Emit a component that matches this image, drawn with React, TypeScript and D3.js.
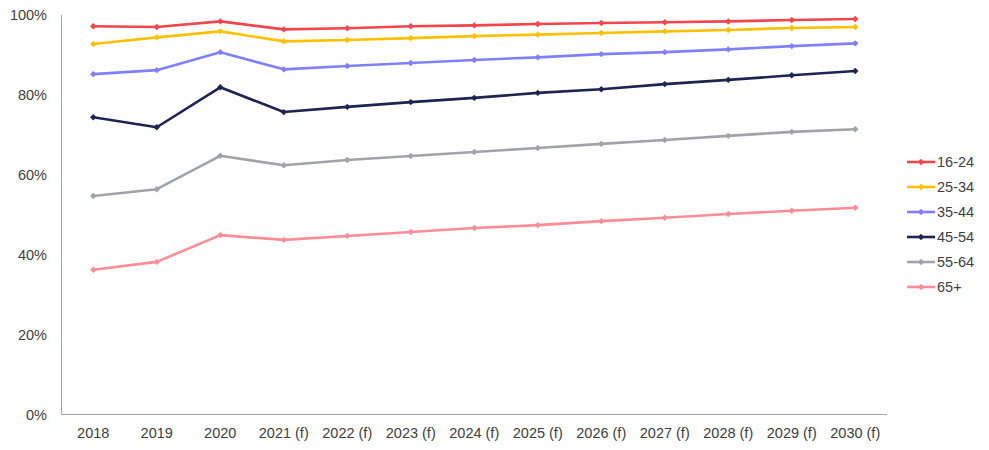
import React from "react";
import * as d3 from "d3";

const categories = ["2018", "2019", "2020", "2021 (f)", "2022 (f)", "2023 (f)", "2024 (f)", "2025 (f)", "2026 (f)", "2027 (f)", "2028 (f)", "2029 (f)", "2030 (f)"];
const seriesNames = ["16-24", "25-34", "35-44", "45-54", "55-64", "65+"];
const s1624 = [97.2, 97.0, 98.4, 96.4, 96.7, 97.2, 97.4, 97.75, 98.0, 98.2, 98.4, 98.75, 99.0];
const s2534 = [92.75, 94.4, 95.9, 93.4, 93.75, 94.2, 94.7, 95.1, 95.5, 95.9, 96.25, 96.75, 97.0];
const s3544 = [85.2, 86.2, 90.7, 86.4, 87.25, 88.0, 88.75, 89.4, 90.2, 90.7, 91.4, 92.2, 92.9];
const s4554 = [74.4, 71.9, 81.9, 75.7, 77.0, 78.2, 79.25, 80.5, 81.4, 82.7, 83.75, 84.9, 86.0];
const s5564 = [54.7, 56.4, 64.75, 62.4, 63.7, 64.7, 65.7, 66.7, 67.75, 68.7, 69.75, 70.75, 71.4];
const s65 = [36.25, 38.2, 44.9, 43.7, 44.7, 45.7, 46.7, 47.4, 48.4, 49.25, 50.2, 51.0, 51.75];
const yTicks = [0, 20, 40, 60, 80, 100];
const colors = ["#F2464F", "#FFC000", "#8080FF", "#1E2452", "#A0A4A8", "#FF8C96"];

const allSeries = [s1624, s2534, s3544, s4554, s5564, s65];

export default function App() {
  const W = 989, H = 450;
  const left = 61.5, right = 887, top = 15, bottom = 414.5;
  const x = d3.scaleBand<string>().domain(categories).range([left, right]);
  const y = d3.scaleLinear().domain([0, 100]).range([bottom, top]);
  const cx = (c: string) => (x(c) as number) + x.bandwidth() / 2;
  const line = d3.line<number>().x((_, i) => cx(categories[i])).y((v) => y(v));
  const font = "'Liberation Sans', Arial, sans-serif";
  const textColor = "#404040";
  const diamond = (px: number, py: number, r: number) =>
    `M${px},${py - r}L${px + r},${py}L${px},${py + r}L${px - r},${py}Z`;

  return (
    <svg width={W} height={H} style={{ position: "absolute", left: 0, top: 0 }} fontFamily={font}>
      <rect width={W} height={H} fill="#fff" />
      {/* axes */}
      <line x1={left} x2={left} y1={top} y2={bottom} stroke="#A6A6A6" strokeWidth={1} />
      <line x1={left} x2={right} y1={bottom} y2={bottom} stroke="#A6A6A6" strokeWidth={1} />
      {yTicks.map((t) => (
        <text key={t} x={47} y={y(t)} textAnchor="end" dominantBaseline="central" fontSize={14.5} fill={textColor}>
          {t}%
        </text>
      ))}
      {categories.map((c) => (
        <text key={c} x={cx(c)} y={433} textAnchor="middle" dominantBaseline="central" fontSize={14.5} fill={textColor}>
          {c}
        </text>
      ))}
      {allSeries.map((s, si) => (
        <g key={si}>
          <path d={line(s) || ""} fill="none" stroke={colors[si]} strokeWidth={2.6} strokeLinejoin="round" />
          {s.map((v, i) => (
            <path key={i} d={diamond(cx(categories[i]), y(v), 3.2)} fill={colors[si]} />
          ))}
        </g>
      ))}
      {/* legend */}
      {seriesNames.map((n, i) => {
        const ly = 162 + i * 25;
        return (
          <g key={n}>
            <line x1={907} x2={935} y1={ly} y2={ly} stroke={colors[i]} strokeWidth={2.6} />
            <path d={diamond(921, ly, 3.2)} fill={colors[i]} />
            <text x={937} y={ly} dominantBaseline="central" fontSize={14.5} fill={textColor}>
              {n}
            </text>
          </g>
        );
      })}
    </svg>
  );
}
